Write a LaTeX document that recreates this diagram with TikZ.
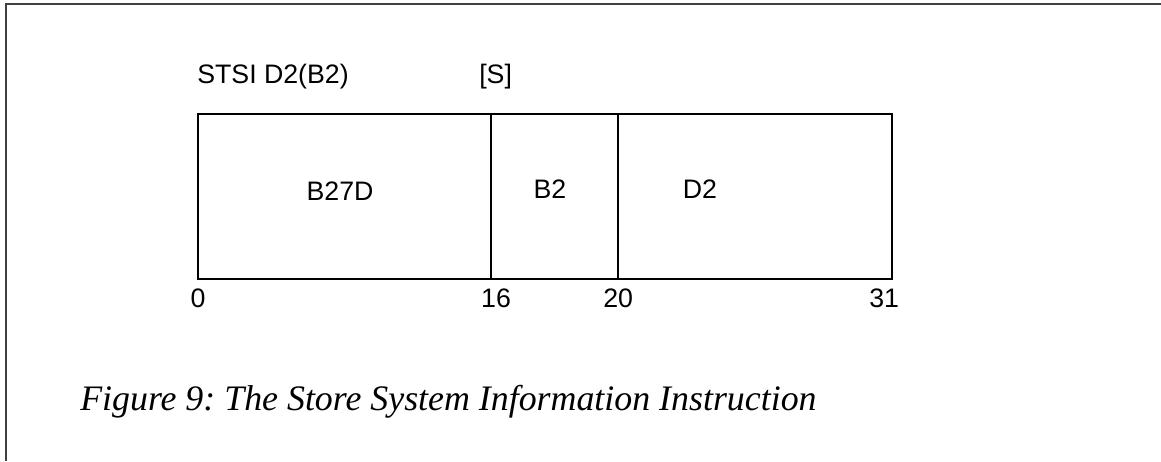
\documentclass[tikz,border=0pt]{standalone}
\usepackage{fontspec}
\setmainfont{Liberation Serif}
\setsansfont{Liberation Sans}
\usetikzlibrary{positioning}
\tikzset{
  lbl/.style   = {font=\sffamily\fontsize{19}{21}\selectfont, inner sep=0pt},
  hdr/.style   = {lbl, anchor=base west},
  fld/.style   = {draw, line width=1.4pt, outer sep=0pt,
                  minimum height=4.125cm, anchor=west},
  frm/.style   = {line width=1.5pt, black!75},
  capt/.style  = {font=\itshape\fontsize{25.5}{28}\selectfont, inner sep=0pt,
                  anchor=base west},
}
\begin{document}
\frenchspacing
\begin{tikzpicture}[x=0.025cm, y=-0.025cm]
  \useasboundingbox (0,0) rectangle (1161,461);
  % --- frame, only top and left edges ---
  \coordinate (ftr) at (1161,4);
  \coordinate (ftl) at (6,4);
  \coordinate (fbl) at (6,461);
  \draw[frm] (ftr) -- (ftl) -- (fbl);

  % --- heading ---
  \node[hdr] (mnem) at (197,83) {STSI D2(B2)};
  \node[hdr] (fmt) at (479,83) {[S]};

  % --- instruction fields ---
  \node[fld, minimum width=7.325cm] (opc) at (198,196.5) {};
  \node[fld, minimum width=3.175cm, right=0pt of opc] (base) {};
  \node[fld, minimum width=6.85cm, right=0pt of base] (disp) {};

  \node[lbl] (opctxt) at (340,191) {B27D};
  \node[lbl] (basetxt) at (550,189) {B2};
  \node[lbl] (disptxt) at (700,189) {D2};

  % --- bit positions ---
  \node[lbl, below=0.25cm of opc.south west] (b0) {0};
  \node[lbl, below=0.25cm of opc.south east, xshift=0.125cm] (b16) {16};
  \node[lbl, below=0.25cm of base.south east] (b20) {20};
  \node[lbl, below=0.25cm of disp.south east, xshift=-0.2cm] (b31) {31};

  % --- caption ---
  \node[capt] (cap) at (80,410) {Figure 9: The Store System Information Instruction};
\end{tikzpicture}
\end{document}
